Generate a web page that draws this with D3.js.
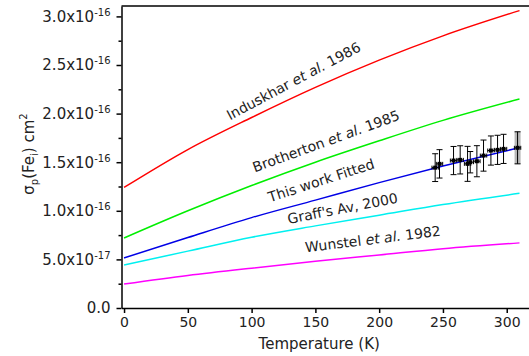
<!DOCTYPE html>
<html>
<head>
<meta charset="utf-8">
<script src="https://cdn.jsdelivr.net/npm/d3@7"></script>
<style>
  body { margin: 0; background: #fff; }
  svg { display: block; font-family: "DejaVu Sans", Verdana, sans-serif; }
</style>
</head>
<body>
<div id="chart"></div>
<script>
// temperatures (K) at which the curves were read
var temps = [0, 50, 100, 150, 200, 250, 310];

// capture cross sections, cm^2
var induskhar = [1.24e-16, 1.63e-16, 1.96e-16, 2.27e-16, 2.55e-16, 2.80e-16, 3.06e-16];
var brotherton = [0.72e-16, 1.00e-16, 1.26e-16, 1.50e-16, 1.72e-16, 1.93e-16, 2.15e-16];
var fitted = [0.515e-16, 0.725e-16, 0.93e-16, 1.11e-16, 1.29e-16, 1.46e-16, 1.65e-16];
var graff = [0.443e-16, 0.585e-16, 0.728e-16, 0.845e-16, 0.955e-16, 1.065e-16, 1.18e-16];
var wunstel = [0.247e-16, 0.335e-16, 0.41e-16, 0.48e-16, 0.545e-16, 0.61e-16, 0.67e-16];

// measured points of this work
var expT = [243.9, 247.3, 258.3, 263.5, 269.3, 271.4, 276.6, 281.8, 287.6, 292.8, 297.5, 308.5];
var expV = [1.444e-16, 1.483e-16, 1.517e-16, 1.524e-16, 1.483e-16, 1.50e-16, 1.51e-16, 1.568e-16, 1.62e-16, 1.627e-16, 1.637e-16, 1.648e-16];
var expErr = [0.143e-16, 0.146e-16, 0.145e-16, 0.145e-16, 0.18e-16, 0.11e-16, 0.16e-16, 0.16e-16, 0.15e-16, 0.15e-16, 0.15e-16, 0.165e-16];
var expTErr = 2.5;

// axis ticks
var xTicks = [0, 50, 100, 150, 200, 250, 300];
var yTicks = [0, 0.5e-16, 1.0e-16, 1.5e-16, 2.0e-16, 2.5e-16, 3.0e-16];
var yMinor = [0.25e-16, 0.75e-16, 1.25e-16, 1.75e-16, 2.25e-16, 2.75e-16];

var series = [
    {values: induskhar, color: "#ff0000", parts: [["Induskhar ", false], ["et al.", true], [" 1986", false]]},
    {values: brotherton, color: "#00ee00", parts: [["Brotherton ", false], ["et al.", true], [" 1985", false]]},
    {values: fitted, color: "#0000e6", parts: [["This work Fitted", false]]},
    {values: graff, color: "#00f0f0", parts: [["Graff's Av, 2000", false]]},
    {values: wunstel, color: "#ff00ff", parts: [["Wunstel ", false], ["et al.", true], [" 1982", false]]}
];

// where the line labels sit (axis units) and their tilt
var labelPos = [
    {t: 83, v: 1.93e-16, rot: -28},
    {t: 102.5, v: 1.395e-16, rot: -20},
    {t: 114.5, v: 1.088e-16, rot: -18},
    {t: 129, v: 0.865e-16, rot: -11},
    {t: 142.5, v: 0.573e-16, rot: -7}
];

var width = 529, height = 356;

var svg = d3.select("#chart")
    .append("svg")
    .attr("width", width)
    .attr("height", height);

var x = d3.scaleLinear().domain([-2, 330]).range([121.5, 545]);
var y = d3.scaleLinear().domain([0, 3.107e-16]).range([308, 6]);

// top frame line
svg.append("line")
    .attr("x1", x(-2)).attr("x2", width)
    .attr("y1", y.range()[1]).attr("y2", y.range()[1])
    .attr("stroke", "#000").attr("stroke-width", 1.5);

// curves
var line = d3.line()
    .x((d, i) => x(temps[i]))
    .y(d => y(d))
    .curve(d3.curveMonotoneX);

series.forEach(s => {
    svg.append("path")
        .attr("d", line(s.values))
        .attr("fill", "none")
        .attr("stroke", s.color)
        .attr("stroke-width", 1.5);
});

// line labels
series.forEach((s, i) => {
    var p = labelPos[i];
    var t = svg.append("text")
        .attr("transform", "translate(" + x(p.t) + "," + y(p.v) + ") rotate(" + p.rot + ")")
        .attr("font-size", "14px")
        .attr("fill", "#222");
    s.parts.forEach(part => {
        t.append("tspan")
            .attr("font-style", part[1] ? "italic" : "normal")
            .text(part[0]);
    });
});

// error bars and points
var pts = expT.map((t, i) => ({t: t, v: expV[i], e: expErr[i]}));

var last = pts[pts.length - 1];
svg.append("rect")
    .attr("x", x(last.t) - 3)
    .attr("y", y(last.v + last.e))
    .attr("width", 6)
    .attr("height", y(last.v - last.e) - y(last.v + last.e))
    .attr("fill", "#999")
    .attr("opacity", 0.7);

var eb = svg.append("g").attr("stroke", "#000").attr("stroke-width", 1);
pts.forEach(d => {
    var cx = x(d.t), cy = y(d.v);
    var top = y(d.v + d.e), bot = y(d.v - d.e);
    eb.append("line").attr("x1", cx).attr("x2", cx).attr("y1", top).attr("y2", bot);
    eb.append("line").attr("x1", cx - 3).attr("x2", cx + 3).attr("y1", top).attr("y2", top);
    eb.append("line").attr("x1", cx - 3).attr("x2", cx + 3).attr("y1", bot).attr("y2", bot);
    var xl = x(d.t - expTErr), xr = x(d.t + expTErr);
    eb.append("line").attr("x1", xl).attr("x2", xr).attr("y1", cy).attr("y2", cy);
    eb.append("line").attr("x1", xl).attr("x2", xl).attr("y1", cy - 2).attr("y2", cy + 2);
    eb.append("line").attr("x1", xr).attr("x2", xr).attr("y1", cy - 2).attr("y2", cy + 2);
});

svg.append("g")
    .selectAll("rect")
    .data(pts)
    .enter()
    .append("rect")
    .attr("x", d => x(d.t) - 2)
    .attr("y", d => y(d.v) - 2)
    .attr("width", 4)
    .attr("height", 4)
    .attr("fill", "#000");

// x axis
var xAxis = svg.append("g")
    .attr("transform", "translate(0," + y(0) + ")")
    .call(d3.axisBottom(x).tickValues(xTicks).tickSize(5).tickSizeOuter(0).tickPadding(4));
xAxis.select(".domain").attr("stroke-width", 1.5);
xAxis.selectAll(".tick line").attr("stroke-width", 1.5);
xAxis.selectAll(".tick text").attr("font-size", "14px").attr("fill", "#222")
    .attr("font-family", "DejaVu Sans, sans-serif");

// y axis
var yAxis = svg.append("g")
    .attr("transform", "translate(" + x(-2) + ",0)")
    .call(d3.axisLeft(y).tickValues(yTicks).tickSize(5).tickSizeOuter(0).tickPadding(6));
yAxis.select(".domain").attr("stroke-width", 1.5);
yAxis.selectAll(".tick line").attr("stroke-width", 1.5);
yAxis.selectAll(".tick text")
    .attr("font-size", "15px")
    .attr("fill", "#222")
    .attr("font-family", "DejaVu Sans, sans-serif")
    .each(function(d) {
        var el = d3.select(this).text("");
        if (d === 0) {
            el.text("0.0");
            return;
        }
        var s = d3.format(".1e")(d).split("e");
        el.append("tspan").text(s[0] + "x10");
        el.append("tspan").attr("font-size", "10px").attr("dy", "-0.6em").text(s[1]);
    });

svg.append("g")
    .attr("transform", "translate(" + x(-2) + ",0)")
    .call(d3.axisLeft(y).tickValues(yMinor).tickSize(3).tickFormat(""))
    .call(g => g.select(".domain").remove())
    .selectAll(".tick line").attr("stroke-width", 1.5);

// axis titles
svg.append("text")
    .attr("x", x(153))
    .attr("y", 349)
    .attr("text-anchor", "middle")
    .attr("font-size", "15px")
    .attr("fill", "#222")
    .text("Temperature (K)");

var yt = svg.append("text")
    .attr("transform", "translate(34,154) rotate(-90)")
    .attr("text-anchor", "middle")
    .attr("font-size", "15px")
    .attr("fill", "#222");
yt.append("tspan").text("\u03c3");
yt.append("tspan").attr("font-size", "10px").attr("dy", "4").text("p");
yt.append("tspan").attr("dy", "-4").text("(Fe");
yt.append("tspan").attr("font-size", "10px").attr("dy", "4").text("i");
yt.append("tspan").attr("dy", "-4").text(") cm");
yt.append("tspan").attr("font-size", "10px").attr("dy", "-7").text("2");
</script>
</body>
</html>
